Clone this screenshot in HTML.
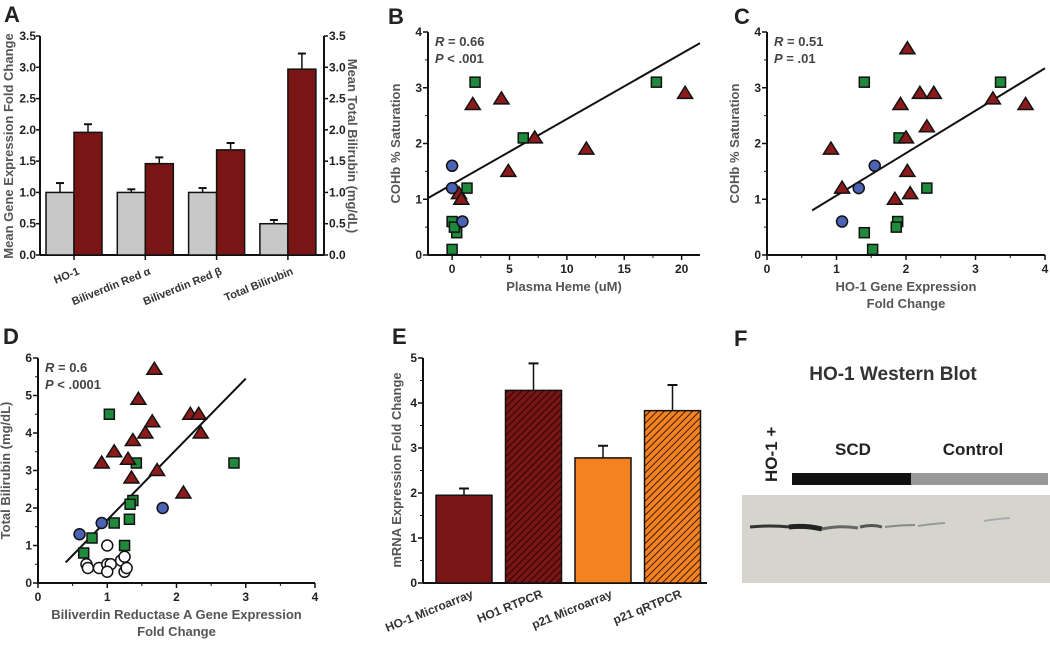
<!DOCTYPE html>
<html><head><meta charset="utf-8"><style>
html,body{margin:0;padding:0;background:#fff}
svg{display:block;font-family:"Liberation Sans",Arial,sans-serif}
.tk{font-size:12px;font-weight:bold;fill:#222}
.at{font-size:13px;font-weight:bold;fill:#555}
.pl{font-size:22px;font-weight:bold;fill:#222}
.st{font-size:13px;font-weight:bold;fill:#444}
</style></head><body>
<svg id="fig" width="1050" height="654" viewBox="0 0 1050 654">
<defs>
<pattern id="hatchR" width="5" height="5" patternUnits="userSpaceOnUse" patternTransform="rotate(45)"><rect width="5" height="5" fill="#7a1515"/><line x1="0" y1="0" x2="0" y2="5" stroke="#2a0505" stroke-width="2"/></pattern>
<pattern id="hatchO" width="5" height="5" patternUnits="userSpaceOnUse" patternTransform="rotate(45)"><rect width="5" height="5" fill="#f58220"/><line x1="0" y1="0" x2="0" y2="5" stroke="#3a1a05" stroke-width="2"/></pattern>
</defs>
<text class="pl" x="4" y="22">A</text>
<text class="pl" x="388" y="24">B</text>
<text class="pl" x="734" y="24">C</text>
<text class="pl" x="3" y="344">D</text>
<text class="pl" x="392" y="344">E</text>
<text class="pl" x="734" y="346">F</text>
<g id="gA"></g>
<g id="gB"></g>
<g id="gC"></g>
<g id="gD"></g>
<g id="gE"></g>
<g id="gF">
<text x="893" y="380" text-anchor="middle" style="font-size:19px;font-weight:bold;fill:#333">HO-1 Western Blot</text>
<text transform="translate(777,482) rotate(-90)" style="font-size:17px;font-weight:bold;fill:#222">HO-1 +</text>
<text x="853" y="455" text-anchor="middle" style="font-size:17px;font-weight:bold;fill:#222">SCD</text>
<text x="973" y="455" text-anchor="middle" style="font-size:17px;font-weight:bold;fill:#222">Control</text>
<rect x="792" y="473" width="119" height="12" fill="#111"/>
<rect x="911" y="473" width="137" height="12" fill="#999"/>
<rect x="742" y="495" width="308" height="88" fill="#d5d5cd"/>
<path d="M750 527 Q770 525 790 527" stroke="#333" stroke-width="3" fill="none"/>
<path d="M789 527 Q805 525 822 529" stroke="#222" stroke-width="5" fill="none"/>
<path d="M822 529 Q840 525 858 528" stroke="#666" stroke-width="3" fill="none"/>
<path d="M860 527 Q872 524 882 527" stroke="#555" stroke-width="3" fill="none"/>
<path d="M885 527 Q900 525 915 525" stroke="#888" stroke-width="2" fill="none"/>
<path d="M918 526 Q930 524 945 523" stroke="#999" stroke-width="2" fill="none"/>
<path d="M984 521 Q995 519 1010 518" stroke="#aaa" stroke-width="2" fill="none"/>
</g>
</svg>
<script>
const NS='http://www.w3.org/2000/svg';
// Panel A
const aCategories=['HO-1','Biliverdin Red \u03b1','Biliverdin Red \u03b2','Total Bilirubin'];
const aControl=[1.0,1.0,1.0,0.5];
const aControlErr=[0.15,0.05,0.07,0.06];
const aSCD=[1.96,1.46,1.68,2.97];
const aSCDErr=[0.13,0.1,0.11,0.25];
const aTicks=[0,0.5,1,1.5,2,2.5,3,3.5];
// Panel B
const bCircX=[0,0,0.9], bCircY=[1.6,1.2,0.6];
const bSqX=[2,17.8,6.2,1.3,0,0.4,0,0.2], bSqY=[3.1,3.1,2.1,1.2,0.6,0.4,0.1,0.5];
const bTriX=[1.8,4.3,7.2,11.7,4.9,0.6,0.8,20.3], bTriY=[2.7,2.8,2.1,1.9,1.5,1.1,1.0,2.9];
const bFit=[[-2.1,1.02],[21.6,3.8]];
const bXTicks=[0,5,10,15,20], bYTicks=[0,1,2,3,4];
// Panel C
const cTriX=[2.02,2.2,2.4,1.92,3.25,3.72,2.3,2.0,0.92,2.02,1.08,1.84,2.06];
const cTriY=[3.7,2.9,2.9,2.7,2.8,2.7,2.3,2.1,1.9,1.5,1.2,1.0,1.1];
const cSqX=[1.4,3.36,1.9,2.3,1.88,1.86,1.4,1.52], cSqY=[3.1,3.1,2.1,1.2,0.6,0.5,0.4,0.1];
const cCircX=[1.55,1.32,1.08], cCircY=[1.6,1.2,0.6];
const cFit=[[0.65,0.8],[4,3.35]];
const cXTicks=[0,1,2,3,4], cYTicks=[0,1,2,3,4];
// Panel D
const dTriX=[1.68,1.45,2.2,2.32,1.65,1.55,2.35,1.37,1.1,1.3,0.92,1.72,1.35,2.1];
const dTriY=[5.7,4.9,4.5,4.5,4.3,4.0,4.0,3.8,3.5,3.3,3.2,3.0,2.8,2.4];
const dSqX=[1.03,1.42,2.83,1.37,1.33,1.1,1.32,0.78,0.66,1.25], dSqY=[4.5,3.2,3.2,2.2,2.1,1.6,1.7,1.2,0.8,1.0];
const dCircX=[0.6,0.92,1.8], dCircY=[1.3,1.6,2.0];
const dOpenX=[1.0,0.7,0.72,0.88,1.0,1.05,1.0,1.2,1.25,1.25,1.28], dOpenY=[1.0,0.5,0.4,0.4,0.5,0.5,0.3,0.6,0.7,0.3,0.4];
const dFit=[[0.4,0.55],[3.0,5.45]];
const dXTicks=[0,1,2,3,4], dYTicks=[0,1,2,3,4,5,6];
// Panel E
const eCategories=['HO-1 Microarray','HO1 RTPCR','p21 Microarray','p21 qRTPCR'];
const eValues=[1.95,4.28,2.78,3.83];
const eErr=[0.15,0.6,0.27,0.57];
const eTicks=[0,1,2,3,4,5];

function mk(tag,attrs,parent,text){const e=document.createElementNS(NS,tag);for(const k in attrs)e.setAttribute(k,attrs[k]);if(text!==undefined)e.textContent=text;parent.appendChild(e);return e;}
function lin(d0,d1,r0,r1){return v=>r0+(v-d0)*(r1-r0)/(d1-d0);}

// ---------- A ----------
(function(){
const g=document.getElementById('gA');
const y=lin(0,3.5,255,36);
const L=40,R=324;
let e=mk('line',{x1:L,y1:36,x2:L,y2:255,stroke:'#111','stroke-width':2},g);

e=mk('line',{x1:R,y1:36,x2:R,y2:255,stroke:'#111','stroke-width':2},g);

e=mk('line',{x1:L,y1:255,x2:R,y2:255,stroke:'#111','stroke-width':2},g);

aTicks.forEach(t=>{
 mk('line',{x1:L-4,y1:y(t),x2:L,y2:y(t),stroke:'#111','stroke-width':1.5},g);
 mk('line',{x1:R,y1:y(t),x2:R+4,y2:y(t),stroke:'#111','stroke-width':1.5},g);
 let tl=mk('text',{x:L-4,y:y(t)+4,'text-anchor':'end',class:'tk'},g,t.toFixed(1));
 
 tl=mk('text',{x:R+5,y:y(t)+4,class:'tk'},g,t.toFixed(1));
 
});
const bw=28, gap=71.3, c0=74;
aCategories.forEach((c,i)=>{
 const cx=c0+i*gap;
 mk('line',{x1:cx,y1:255,x2:cx,y2:260,stroke:'#111','stroke-width':1.5},g);
 [[aControl,aControlErr,'#c8c8c8',cx-bw,'a-control-bar'],[aSCD,aSCDErr,'#7a1515',cx,'a-scd-bar']].forEach(([v,er,col,x0,nm])=>{
  const yt=y(v[i]), ye=y(v[i]+er[i]);
  mk('line',{x1:x0+bw/2,y1:yt,x2:x0+bw/2,y2:ye,stroke:'#111','stroke-width':1.5},g);
  mk('line',{x1:x0+bw/2-4,y1:ye,x2:x0+bw/2+4,y2:ye,stroke:'#111','stroke-width':2},g);
  const b=mk('rect',{x:x0,y:yt,width:bw,height:255-yt,fill:col,stroke:'#111','stroke-width':1.5},g);
  
 });
 const tl=mk('text',{transform:`translate(${cx+6},${274}) rotate(-22)`,'text-anchor':'end',style:'font-size:11px;font-weight:bold;fill:#333'},g,c);
 
});
let t=mk('text',{transform:'translate(13,146) rotate(-90)','text-anchor':'middle',class:'at'},g,'Mean Gene Expression Fold Change');

t=mk('text',{transform:'translate(348,146) rotate(90)','text-anchor':'middle',class:'at'},g,'Mean Total Bilirubin (mg/dL)');

})();

// ---------- scatter helper ----------
function scatter(g,p,sets,fit,xt,yt,stats,xlabel,ylabel){
 const x=lin(p.x0,p.x1,p.L,p.R), y=lin(p.y0,p.y1,p.B,p.T);
 let e=mk('line',{x1:p.L,y1:p.T,x2:p.L,y2:p.B,stroke:'#111','stroke-width':2},g);
 
 e=mk('line',{x1:p.L,y1:p.B,x2:p.R,y2:p.B,stroke:'#111','stroke-width':2},g);
 
 yt.forEach((v,i)=>{mk('line',{x1:p.L-5,y1:y(v),x2:p.L,y2:y(v),stroke:'#111','stroke-width':1.5},g);
  if(i<yt.length-1)mk('line',{x1:p.L-3,y1:(y(v)+y(yt[i+1]))/2,x2:p.L,y2:(y(v)+y(yt[i+1]))/2,stroke:'#111','stroke-width':1},g);
  const l=mk('text',{x:p.L-6,y:y(v)+4,'text-anchor':'end',class:'tk'},g,v);
  });
 xt.forEach((v,i)=>{mk('line',{x1:x(v),y1:p.B,x2:x(v),y2:p.B+5,stroke:'#111','stroke-width':1.5},g);
  if(i<xt.length-1)mk('line',{x1:(x(v)+x(xt[i+1]))/2,y1:p.B,x2:(x(v)+x(xt[i+1]))/2,y2:p.B+3,stroke:'#111','stroke-width':1},g);
  const l=mk('text',{x:x(v),y:p.B+18,'text-anchor':'middle',class:'tk'},g,v);
  });
 e=mk('line',{x1:x(fit[0][0]),y1:y(fit[0][1]),x2:x(fit[1][0]),y2:y(fit[1][1]),stroke:'#111','stroke-width':2},g);
 
 sets.forEach(s=>{s.xs.forEach((xv,i)=>{const cx=x(xv),cy=y(s.ys[i]);let m;
  if(s.type==='tri')m=mk('polygon',{points:`${cx},${cy-7} ${cx-7.5},${cy+5} ${cx+7.5},${cy+5}`,fill:'#8b1a1a',stroke:'#111','stroke-width':1.5},g);
  else if(s.type==='sq')m=mk('rect',{x:cx-5,y:cy-5,width:10,height:10,fill:'#1f8a3c',stroke:'#111','stroke-width':1.5},g);
  else m=mk('circle',{cx:cx,cy:cy,r:5.5,fill:s.type==='open'?'#fff':'#4a63b5',stroke:'#111','stroke-width':1.5},g);
  });});
 let t=mk('text',{x:p.L+7,y:p.T+14,class:'st'},g);t.innerHTML=`<tspan font-style="italic">${stats[0]}</tspan>${stats[1]}`;
 
 t=mk('text',{x:p.L+7,y:p.T+31,class:'st'},g);t.innerHTML=`<tspan font-style="italic">P</tspan>${stats[2]}`;
 
 xlabel.forEach((lb,i)=>{const l=mk('text',{x:(p.L+p.R)/2+(p.xlo||0),y:p.B+36+i*17,'text-anchor':'middle',class:'at'},g,lb);
  });
 const yl=mk('text',{transform:`translate(${p.L-28},${(p.T+p.B)/2}) rotate(-90)`,'text-anchor':'middle',class:'at'},g,ylabel);
 
}
scatter(document.getElementById('gB'),{x0:-2.1,x1:21.6,L:428,R:700,y0:0,y1:4,B:255,T:32,xlo:0},
 [{type:'sq',xs:bSqX,ys:bSqY,name:'b-square-point'},{type:'tri',xs:bTriX,ys:bTriY,name:'b-triangle-point'},{type:'circ',xs:bCircX,ys:bCircY,name:'b-circle-point'}],
 bFit,bXTicks,bYTicks,['R',' = 0.66',' < .001'],['Plasma Heme (uM)'],'COHb % Saturation');
scatter(document.getElementById('gC'),{x0:0,x1:4,L:767,R:1045,y0:0,y1:4,B:255,T:32},
 [{type:'sq',xs:cSqX,ys:cSqY,name:'c-square-point'},{type:'tri',xs:cTriX,ys:cTriY,name:'c-triangle-point'},{type:'circ',xs:cCircX,ys:cCircY,name:'c-circle-point'}],
 cFit,cXTicks,cYTicks,['R',' = 0.51',' = .01'],['HO-1 Gene Expression','Fold Change'],'COHb % Saturation');
scatter(document.getElementById('gD'),{x0:0,x1:4,L:38,R:315,y0:0,y1:6,B:583,T:358},
 [{type:'open',xs:dOpenX,ys:dOpenY,name:'d-open-circle-point'},{type:'sq',xs:dSqX,ys:dSqY,name:'d-square-point'},{type:'tri',xs:dTriX,ys:dTriY,name:'d-triangle-point'},{type:'circ',xs:dCircX,ys:dCircY,name:'d-circle-point'}],
 dFit,dXTicks,dYTicks,['R',' = 0.6',' < .0001'],['Biliverdin Reductase A Gene Expression','Fold Change'],'Total Bilirubin (mg/dL)');

// ---------- E ----------
(function(){
const g=document.getElementById('gE');
const y=lin(0,5,583,358);
const L=423,R=707;
let e=mk('line',{x1:L,y1:358,x2:L,y2:583,stroke:'#111','stroke-width':2},g);

e=mk('line',{x1:L,y1:583,x2:R,y2:583,stroke:'#111','stroke-width':2},g);

eTicks.forEach((t,i)=>{mk('line',{x1:L-5,y1:y(t),x2:L,y2:y(t),stroke:'#111','stroke-width':1.5},g);
 if(i<eTicks.length-1)mk('line',{x1:L-3,y1:y(t+0.5),x2:L,y2:y(t+0.5),stroke:'#111','stroke-width':1},g);
 const l=mk('text',{x:L-6,y:y(t)+4,'text-anchor':'end',class:'tk'},g,t);
 });
const fills=['#7a1515','url(#hatchR)','#f58220','url(#hatchO)'];
const bw=56, step=69.5, x0=436;
eCategories.forEach((c,i)=>{
 const bx=x0+i*step, yt=y(eValues[i]), ye=y(eValues[i]+eErr[i]);
 mk('line',{x1:bx+bw/2,y1:yt,x2:bx+bw/2,y2:ye,stroke:'#111','stroke-width':1.5},g);
 mk('line',{x1:bx+bw/2-5,y1:ye,x2:bx+bw/2+5,y2:ye,stroke:'#111','stroke-width':2},g);
 const b=mk('rect',{x:bx,y:yt,width:bw,height:583-yt,fill:fills[i],stroke:'#111','stroke-width':1.5},g);
 
 const tl=mk('text',{transform:`translate(${bx+bw/2+10},${597}) rotate(-22)`,'text-anchor':'end',style:'font-size:12px;font-weight:bold;fill:#333'},g,c);
 
});
const t=mk('text',{transform:'translate(401,470) rotate(-90)','text-anchor':'middle',class:'at'},g,'mRNA Expression Fold Change');

})();
</script>
</body></html>
